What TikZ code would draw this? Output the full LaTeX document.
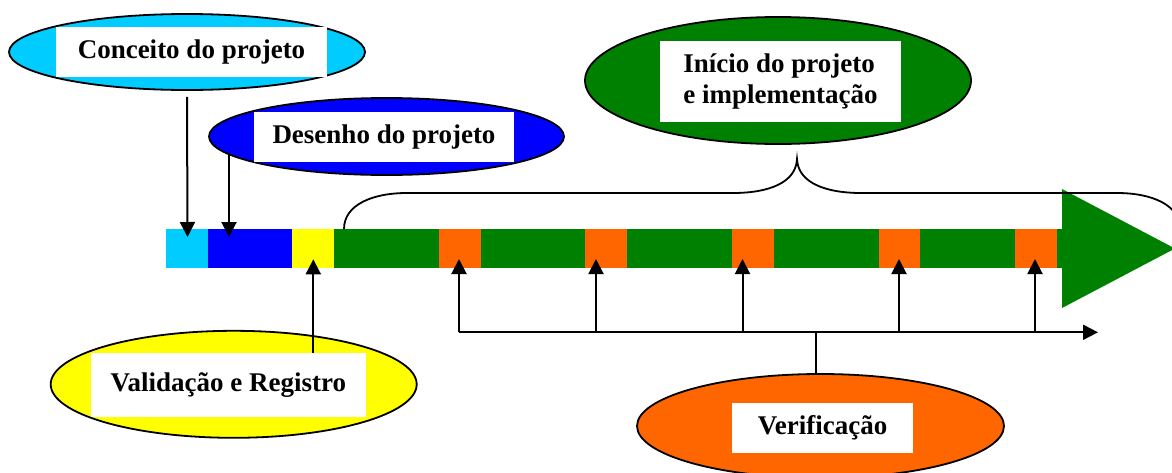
\documentclass[tikz,border=0pt]{standalone}
\usepackage{fontspec}
\setmainfont{Liberation Serif}
\usetikzlibrary{shapes.geometric,arrows.meta}
\definecolor{ciano}{RGB}{0,204,255}
\definecolor{azul}{RGB}{0,0,255}
\definecolor{amarelo}{RGB}{255,255,0}
\definecolor{verde}{RGB}{0,128,0}
\definecolor{laranja}{RGB}{255,102,0}
\tikzset{
  balao/.style={ellipse,draw=black,line width=1.8pt,inner sep=0pt},
  rotulo/.style={rectangle,fill=white,inner sep=0pt,font=\bfseries\fontsize{27}{31}\selectfont},
  seta/.style={line width=2pt,-{Triangle[length=15pt,width=15pt]}},
}
\begin{document}
\begin{tikzpicture}[x=1pt,y=-1pt]
    \useasboundingbox (0,0) rectangle (1172,472);
    % baloes
    \node[balao,fill=ciano,minimum width=356pt,minimum height=76pt] (conceito) at (187,52) {};
    \node[rotulo,minimum width=271pt,minimum height=50pt] (conceitotxt) at (191.5,52) {Conceito do projeto};
    \node[balao,fill=azul,minimum width=355pt,minimum height=77pt] (desenho) at (386.5,136.5) {};
    \node[rotulo,minimum width=260pt,minimum height=50pt] (desenhotxt) at (384,137) {Desenho do projeto};
    \node[balao,fill=verde,minimum width=386pt,minimum height=127pt] (inicio) at (778,80.5) {};
    \node[rotulo,minimum width=241pt,minimum height=81pt,align=left] (iniciotxt) at (780.5,81.5) {Início do projeto\\e implementação};
    \node[balao,fill=amarelo,minimum width=366pt,minimum height=107pt] (valid) at (233.7,384.3) {};
    \node[rotulo,minimum width=275pt,minimum height=64pt] (validtxt) at (228.3,384.7) {Validação e Registro};
    \node[balao,fill=laranja,minimum width=367pt,minimum height=104pt] (verif) at (820.5,426) {};
    \node[rotulo,minimum width=181pt,minimum height=50pt] (veriftxt) at (822.5,427.7) {Verificação};
    % barra
    \fill[ciano] (166,229) rectangle (208,268);
    \fill[azul] (208,229) rectangle (292,268);
    \fill[amarelo] (292,229) rectangle (334,268);
    \fill[verde] (334,229) rectangle (1063,268);
    \foreach \a/\b in {439/481,585/627,732/774,879/920,1015/1057}
        \fill[laranja] (\a,229) rectangle (\b,268);
    \fill[verde] (1062,189) -- (1062,308) -- (1175,248.5) -- cycle;
    % chave
    \draw[line width=1.8pt] (344,229) .. controls (344,205) and (372,193) .. (407,193) -- (733,193)
        .. controls (768,193) and (796,183) .. (797,159)
        .. controls (798,183) and (826,193) .. (861,193) -- (1117,193)
        .. controls (1152,193) and (1180,205) .. (1180,229);
    % setas
    \coordinate (alvoA) at (187.5,237);
    \coordinate (alvoB) at (229,237);
    \coordinate (alvoC) at (313.3,259.3);
    \draw[seta] ([yshift=-6pt]conceito.south) -- (alvoA);
    \draw[seta] (alvoB |- desenho.186) -- (alvoB);
    \draw[seta] (alvoC |- validtxt.north) -- (alvoC);
    \coordinate (linhaA) at (459,332.3);
    \coordinate (linhaB) at (1098,332.3);
    \coordinate (juncao) at (815.7,332.3);
    \draw[seta] (linhaA) -- (linhaB);
    \draw[line width=2pt] (juncao) -- (juncao |- verif.north);
    \foreach \x [count=\i] in {459,596,742.5,899,1035}{
        \coordinate (marco\i) at (\x,259);
        \draw[seta] (marco\i |- linhaA) -- (marco\i);
    }
\end{tikzpicture}
\end{document}
